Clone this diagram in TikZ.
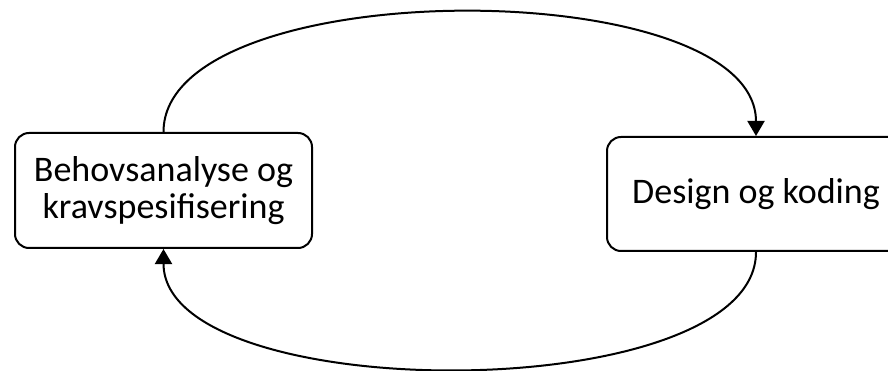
\documentclass[tikz,border=0pt]{standalone}
\usepackage{fontspec}
\setmainfont{Carlito}
\usetikzlibrary{arrows.meta}
\begin{document}
\begin{tikzpicture}[x=1pt,y=-1pt,
  stagebox/.style={draw=black, line width=2pt, rounded corners=14pt, fill=white,
    inner sep=0pt, align=center, font=\fontsize{36}{37}\selectfont},
  flow/.style={draw=black, line width=2pt, -{Triangle[width=17pt,length=15pt]}}]
\useasboundingbox (0,0) rectangle (888,371);
\node[stagebox, minimum width=297pt, minimum height=115pt] (L) at (163.5,190.5)
  {Behovsanalyse og\\kravspesifisering};
\node[stagebox, minimum width=298pt, minimum height=114pt] (R) at (756,194)
  {Design og koding};
\draw[flow] (L.north) .. controls (163.5,-28) and (756,-28) .. (R.north);
\draw[flow] (R.south) .. controls (756,408) and (163.5,408) .. (L.south);
\end{tikzpicture}
\end{document}
